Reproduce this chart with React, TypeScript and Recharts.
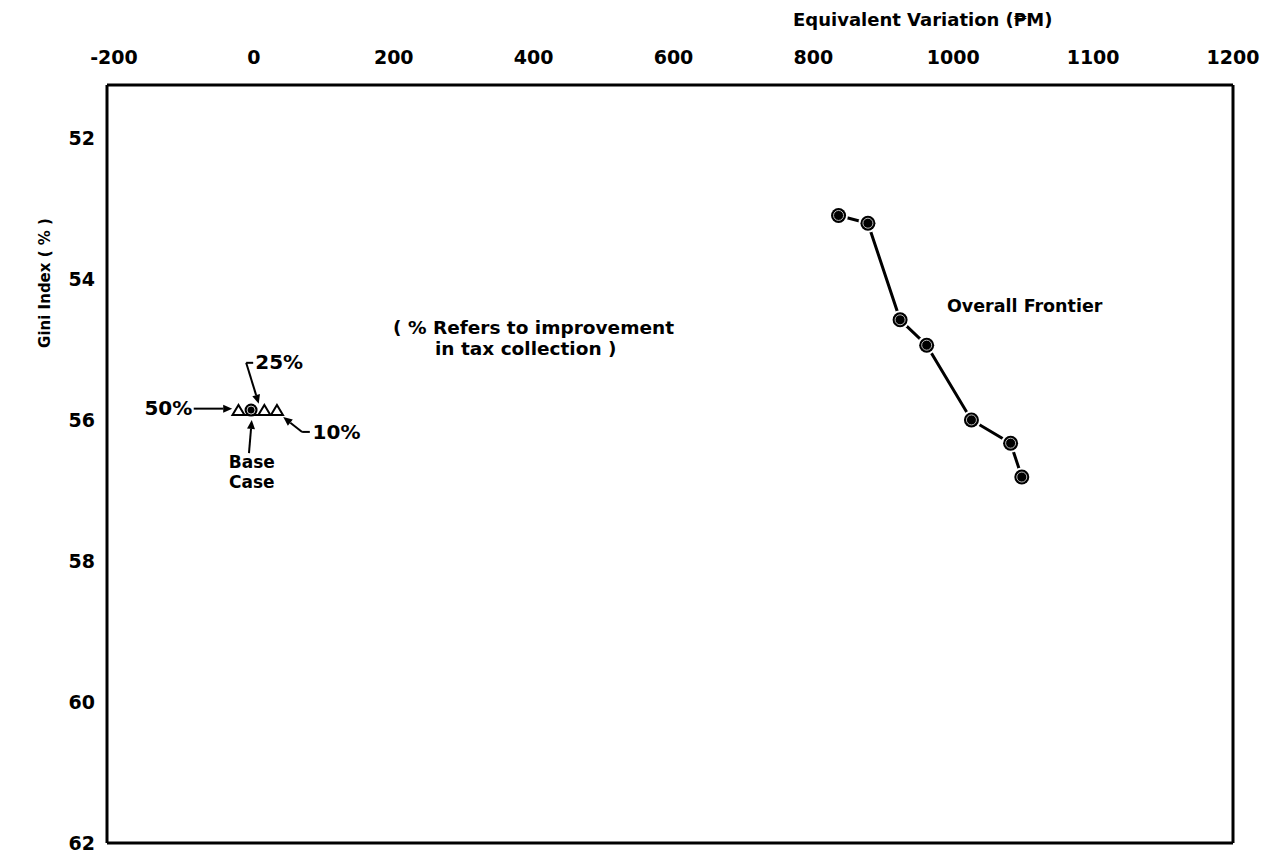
import {
  ReferenceDot,
  ReferenceLine,
  Scatter,
  ScatterChart,
  XAxis,
  YAxis,
} from "recharts";

// axis ticks (the scan labels the last two ticks "1100" and "1200")
const xTicks = [-200, 0, 200, 400, 600, 800, 1000, 1200, 1400];
const xTickLabels = ["-200", "0", "200", "400", "600", "800", "1000", "1100", "1200"];
const yTicks = [52, 54, 56, 58, 60, 62];

// overall frontier
const frontierEv = [836, 878, 924, 962, 1026, 1082, 1098];
const frontierGini = [53.1, 53.21, 54.58, 54.94, 56.0, 56.33, 56.81];

// improvement in tax collection
const taxLabels = ["50%", "25%", "10%"];
const taxEv = [-22, 15, 33];
const taxGini = [55.93, 55.93, 55.93];

const baseEv = [-4];
const baseGini = [55.86];

const frontier = frontierEv.map((ev, i) => ({ ev, gini: frontierGini[i] }));
const tax = taxEv.map((ev, i) => ({ ev, gini: taxGini[i], label: taxLabels[i] }));
const base = baseEv.map((ev, i) => ({ ev, gini: baseGini[i] }));

const X_DOMAIN = [-210, 1400];
const Y_DOMAIN = [51.25, 62];

const FONT = "'DejaVu Sans', sans-serif";

const FrontierDot = (p: any) => (
  <g>
    <circle cx={p.cx} cy={p.cy} r={9.5} fill="#fff" />
    <circle cx={p.cx} cy={p.cy} r={7.5} fill="#000" />
    <circle cx={p.cx} cy={p.cy} r={5} fill="none" stroke="#bbb" strokeWidth={1} />
  </g>
);

const Triangle = (p: any) => (
  <polygon
    points={`${p.cx - 6},${p.cy} ${p.cx + 6},${p.cy} ${p.cx},${p.cy - 10}`}
    fill="#fff"
    stroke="#000"
    strokeWidth={2}
  />
);

const BaseDot = (p: any) => (
  <g>
    <circle cx={p.cx} cy={p.cy} r={6.5} fill="#000" />
    <circle cx={p.cx} cy={p.cy} r={4} fill="none" stroke="#ccc" strokeWidth={1} />
  </g>
);

const text =
  (value: string, size: number, anchor: "start" | "middle" | "end" = "start") =>
  (p: any) => (
    <text
      x={p.cx}
      y={p.cy}
      dy="0.36em"
      textAnchor={anchor}
      fontFamily={FONT}
      fontWeight="bold"
      fontSize={size}
      fill="#000"
    >
      {value}
    </text>
  );

const arrow = (p: any) => {
  const { x1, y1, x2, y2 } = p;
  const a = Math.atan2(y2 - y1, x2 - x1);
  const len = 9;
  const w = 4;
  const bx = x2 - len * Math.cos(a);
  const by = y2 - len * Math.sin(a);
  const nx = -Math.sin(a) * w;
  const ny = Math.cos(a) * w;
  return (
    <g>
      <line x1={x1} y1={y1} x2={bx} y2={by} stroke="#000" strokeWidth={2} />
      <polygon points={`${x2},${y2} ${bx + nx},${by + ny} ${bx - nx},${by - ny}`} fill="#000" />
    </g>
  );
};

const plain = (p: any) => (
  <line x1={p.x1} y1={p.y1} x2={p.x2} y2={p.y2} stroke="#000" strokeWidth={2} />
);

const ax = { xAxisId: "top", yAxisId: "left" };

export default function App() {
  return (
    <div style={{ position: "relative", width: 1269, height: 854, background: "#fff" }}>
      <style>{"body{margin:0}"}</style>
      <div
        style={{
          position: "absolute",
          left: 793,
          top: 9,
          fontFamily: FONT,
          fontWeight: "bold",
          fontSize: 18,
          lineHeight: "22px",
          whiteSpace: "nowrap",
        }}
      >
        Equivalent Variation (₱M)
      </div>
      <div
        style={{
          position: "absolute",
          left: 45,
          top: 283,
          transform: "translate(-50%, -50%) rotate(-90deg)",
          fontFamily: FONT,
          fontWeight: "bold",
          fontSize: 15,
          whiteSpace: "nowrap",
        }}
      >
        Gini Index ( % )
      </div>
      <ScatterChart
        width={1269}
        height={854}
        margin={{ top: 45, right: 36, bottom: 11, left: 47 }}
      >
        <XAxis
          xAxisId="top"
          dataKey="ev"
          type="number"
          orientation="top"
          domain={X_DOMAIN}
          ticks={xTicks}
          tickFormatter={(v: number) => xTickLabels[xTicks.indexOf(v)]}
          allowDataOverflow
          height={40}
          tickLine={false}
          tickSize={0}
          tickMargin={21}
          axisLine={{ stroke: "#000", strokeWidth: 3 }}
          tick={{ fill: "#000", fontFamily: FONT, fontWeight: "bold", fontSize: 19 }}
        />
        <YAxis
          yAxisId="left"
          dataKey="gini"
          type="number"
          reversed
          domain={Y_DOMAIN}
          ticks={yTicks}
          allowDataOverflow
          width={60}
          tickLine={false}
          tickSize={0}
          tickMargin={12}
          axisLine={{ stroke: "#000", strokeWidth: 3 }}
          tick={{ fill: "#000", fontFamily: FONT, fontWeight: "bold", fontSize: 19 }}
        />

        {/* right and bottom frame */}
        <ReferenceLine {...ax} x={X_DOMAIN[1]} stroke="#000" strokeWidth={3} />
        <ReferenceLine {...ax} y={Y_DOMAIN[1]} stroke="#000" strokeWidth={3} />

        <Scatter
          {...ax}
          data={frontier}
          line={{ stroke: "#000", strokeWidth: 3 }}
          shape={FrontierDot}
          isAnimationActive={false}
        />
        <Scatter
          {...ax}
          data={tax}
          line={{ stroke: "#000", strokeWidth: 2 }}
          shape={Triangle}
          isAnimationActive={false}
        />
        <Scatter {...ax} data={base} shape={BaseDot} isAnimationActive={false} />

        {/* annotation arrows */}
        <ReferenceLine {...ax} segment={[{ x: -86, y: 55.84 }, { x: -31, y: 55.84 }]} shape={arrow} />
        <ReferenceLine {...ax} segment={[{ x: -1, y: 55.19 }, { x: -11, y: 55.19 }]} shape={plain} />
        <ReferenceLine {...ax} segment={[{ x: -11, y: 55.19 }, { x: 7, y: 55.77 }]} shape={arrow} />
        <ReferenceLine {...ax} segment={[{ x: 80, y: 56.17 }, { x: 69, y: 56.17 }]} shape={plain} />
        <ReferenceLine {...ax} segment={[{ x: 69, y: 56.17 }, { x: 42, y: 55.96 }]} shape={arrow} />
        <ReferenceLine {...ax} segment={[{ x: -7, y: 56.47 }, { x: -3, y: 56.0 }]} shape={arrow} />

        {/* annotation text */}
        <ReferenceDot {...ax} x={-88} y={55.83} r={0} shape={text("50%", 20, "end")} />
        <ReferenceDot {...ax} x={2} y={55.18} r={0} shape={text("25%", 20)} />
        <ReferenceDot {...ax} x={84} y={56.17} r={0} shape={text("10%", 20)} />
        <ReferenceDot {...ax} x={-3} y={56.6} r={0} shape={text("Base", 17, "middle")} />
        <ReferenceDot {...ax} x={-3} y={56.88} r={0} shape={text("Case", 17, "middle")} />
        <ReferenceDot {...ax} x={199} y={54.68} r={0} shape={text("( % Refers to improvement", 18.5)} />
        <ReferenceDot {...ax} x={259} y={54.98} r={0} shape={text("in tax collection )", 18.5)} />
        <ReferenceDot {...ax} x={991} y={54.38} r={0} shape={text("Overall Frontier", 17.5)} />
      </ScatterChart>
    </div>
  );
}
